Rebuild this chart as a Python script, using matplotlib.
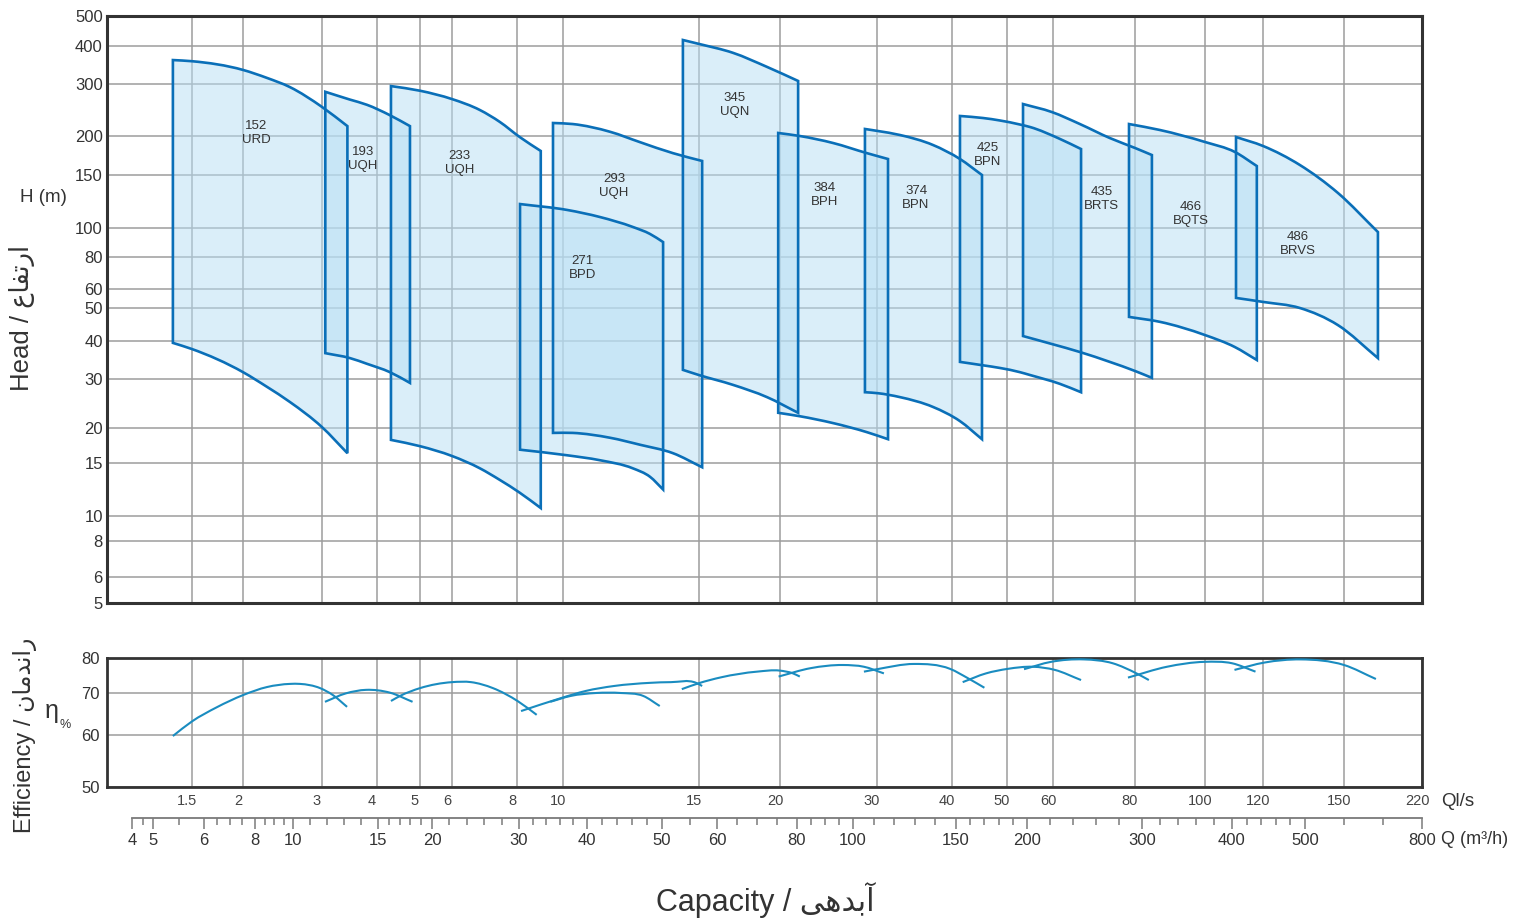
import numpy as np
import matplotlib
matplotlib.use('Agg')
import matplotlib.pyplot as plt
import matplotlib.transforms as mtransforms
from matplotlib.path import Path
from matplotlib.patches import PathPatch

plt.rcParams['font.family'] = ['Liberation Sans', 'DejaVu Sans']

# ---- axis values -------------------------------------------------------
Q_TICKS = [4, 5, 6, 8, 10, 15, 20, 30, 40, 50, 60, 80, 100, 150, 200, 300, 400, 500, 800]
Q_MINOR = [4.5, 5.5, 6.5, 7, 7.5, 8.5, 9, 9.5, 11, 12, 13, 14, 16, 17, 18, 19,
           22, 24, 26, 28, 32, 34, 36, 38, 42, 44, 46, 48, 55, 65, 70, 75,
           85, 90, 95, 110, 120, 130, 140, 160, 170, 180, 190, 220, 240, 260, 280,
           320, 340, 360, 380, 420, 440, 460, 480, 600, 700]
LS_TICKS = ['1.5', '2', '3', '4', '5', '6', '8', '10', '15', '20', '30', '40',
            '50', '60', '80', '100', '120', '150', '220']
H_TICKS = [5, 6, 8, 10, 15, 20, 30, 40, 50, 60, 80, 100, 150, 200, 300, 400, 500]
EFF_TICKS = [50, 60, 70, 80]

# ruler positions on the sheet (px), the scales are not true logs
Q_LEFT, Q_LEFT_X = 2.8, 107
Q_TICK_X = [132, 153, 204, 255, 293, 378, 432, 519, 587, 662, 717, 797, 853,
            956, 1027, 1142, 1232, 1305, 1422]
LS_TICK_X = [192, 243, 322, 377, 420, 452, 517, 563, 699, 780, 877, 952,
             1007, 1053, 1135, 1205, 1263, 1344, 1422]
H_TICK_Y = [603, 577, 541, 516, 463, 428, 379, 341, 308, 289, 257, 228, 175,
            136, 84, 46, 16]
EFF_TICK_Y = [787, 735, 693, 658]

# ---- pump fields: Q (m3/h), max / min head (m) --------------------------
q_152 = [5.39, 5.76, 7.53, 8.63, 9.84, 11.7, 13.2]
hmax_152 = [363, 360, 337, 316, 294, 256, 219]
hmin_152 = [39.5, 37.9, 31.8, 28.4, 25.3, 20.2, 16.4]

q_193 = [11.9, 13.35, 14.35, 16.1, 17.96]
hmax_193 = [285, 270, 260, 240, 219]
hmin_193 = [36.8, 35.5, 34.0, 31.8, 29.2]

q_233 = [16.2, 18.9, 22.3, 25.5, 27.8, 30.1, 33.2]
hmax_233 = [296, 287, 271, 250, 227, 198.7, 180.8]
hmin_233 = [18.3, 17.4, 16.0, 14.5, 13.4, 12.2, 10.75]

q_271 = [30.15, 37.1, 41.7, 46.1, 48.4, 50.2]
hmax_271 = [122.6, 117, 110.4, 101, 95.9, 90.3]
hmin_271 = [16.9, 16.1, 15.4, 14.5, 13.7, 12.5]

q_293 = [35, 37.9, 43.1, 47.1, 52, 57.3]
hmax_293 = [225, 223, 208, 192, 178, 168]
hmin_293 = [19.3, 19.3, 18.6, 17.6, 16.4, 14.6]

q_345 = [53.8, 56.7, 64, 72.5, 80.4]
hmax_345 = [420, 407, 382, 345, 308]
hmin_345 = [32.4, 31.05, 28.8, 26.3, 23.1]

q_384 = [75.3, 81, 92.9, 106.8, 117]
hmax_384 = [205.8, 200, 191, 178, 170.5]
hmin_384 = [23.1, 22.4, 21.0, 19.4, 18.4]

q_374 = [105.8, 112.1, 122.8, 138.8, 152.8, 168.3]
hmax_374 = [213.5, 209.6, 201.9, 188.5, 170.5, 150]
hmin_374 = [27.3, 27.1, 26.3, 24.3, 21.4, 18.4]

q_425 = [152.8, 169, 181, 195, 202.6, 228.7, 247]
hmax_425 = [238.5, 234.6, 229.8, 222.1, 217.3, 196.2, 183.3]
hmin_425 = [34.5, 33.6, 32.9, 31.8, 31.05, 29, 27.3]

q_435 = [197.2, 221.7, 246, 272, 294, 311]
hmax_435 = [261.5, 246, 223, 197.4, 184.6, 175.6]
hmin_435 = [41.5, 39.2, 37.1, 34.5, 32.1, 30.3]

q_466 = [288.7, 320, 370, 404, 434]
hmax_466 = [223, 211.5, 192.3, 179.5, 161.5]
hmin_466 = [47.3, 45.8, 41.8, 38.4, 35]

q_486 = [405.5, 442.5, 493, 584.6, 687]
hmax_486 = [198.7, 187.2, 162.8, 133, 97.2]
hmin_486 = [55.3, 53.2, 50, 44.8, 35.5]

# ---- efficiency curves: Q (m3/h), eta (%) -------------------------------
eq_152 = [5.39, 5.76, 6.5, 7.53, 8.63, 9.84, 10.41, 11.59, 12.35, 13.18]
eta_152 = [59.8, 63.2, 66.6, 69.5, 71.7, 72.6, 72.6, 71.4, 69.5, 66.7]
eq_193 = [11.88, 13.1, 14.3, 16.1, 18.2]
eta_193 = [67.9, 69.9, 70.9, 70.1, 67.9]
eq_233 = [16.2, 17.04, 18.9, 22.3, 24.5, 27.0, 29.9, 32.6]
eta_233 = [68.1, 69.3, 71.4, 73.1, 73.1, 71.4, 68.0, 64.8]
eq_271 = [34.6, 37.6, 41.2, 44.5, 47.5, 49.7]
eta_271 = [67.9, 69.3, 70.0, 70.0, 69.3, 66.9]
eq_293 = [30.3, 36.2, 39.85, 43.6, 48.4, 51.6, 56.2, 57.3]
eta_293 = [65.7, 68.8, 70.6, 72.0, 72.9, 73.1, 72.9, 72.0]
eq_345 = [53.6, 56.7, 61.1, 70, 75.7, 79.0, 81]
eta_345 = [71.1, 72.8, 74.5, 76.1, 76.4, 75.6, 74.7]
eq_384 = [75.4, 84.9, 96.4, 105.3, 115]
eta_384 = [74.7, 77.1, 78.0, 77.5, 75.6]
eq_374 = [105.3, 111.7, 129.6, 147.1, 158.5, 170]
eta_374 = [76.1, 76.8, 78.3, 76.9, 74.2, 71.5]
eq_425 = [154.7, 171.1, 186.5, 205.2, 224.2, 247.0]
eta_425 = [73.1, 75.6, 76.9, 77.5, 76.6, 73.7]
eq_435 = [197.9, 220.9, 249.4, 274.5, 295.2, 307.6]
eta_435 = [76.8, 78.9, 79.6, 78.5, 75.6, 73.7]
eq_466 = [287.8, 327.8, 369.4, 400, 432.2]
eta_466 = [74.4, 77.5, 78.9, 78.5, 76.1]
eq_486 = [403.4, 444.5, 494.1, 600, 681.8]
eta_486 = [76.6, 78.7, 79.6, 78.0, 74.0]

# model tags and where they sit (Q, H)
tags = ['152\nURD', '193\nUQH', '233\nUQH', '271\nBPD', '293\nUQH', '345\nUQN',
        '384\nBPH', '374\nBPN', '425\nBPN', '435\nBRTS', '466\nBQTS', '486\nBRVS']
tag_q = [8.05, 14.1, 23.2, 39.4, 43.6, 64.5, 90, 130.6, 172.5, 265, 354, 490]
tag_h = [205.8, 170.5, 165.4, 73.1, 139.6, 259.6, 131, 128.3, 175.6, 127.4, 113, 89]

fields = [(q_152, hmax_152, hmin_152), (q_193, hmax_193, hmin_193),
          (q_233, hmax_233, hmin_233), (q_271, hmax_271, hmin_271),
          (q_293, hmax_293, hmin_293), (q_345, hmax_345, hmin_345),
          (q_384, hmax_384, hmin_384), (q_374, hmax_374, hmin_374),
          (q_425, hmax_425, hmin_425), (q_435, hmax_435, hmin_435),
          (q_466, hmax_466, hmin_466), (q_486, hmax_486, hmin_486)]
eff_curves = [(eq_152, eta_152), (eq_193, eta_193), (eq_233, eta_233),
              (eq_271, eta_271), (eq_293, eta_293), (eq_345, eta_345),
              (eq_384, eta_384), (eq_374, eta_374), (eq_425, eta_425),
              (eq_435, eta_435), (eq_466, eta_466), (eq_486, eta_486)]

# persian words, already in joined glyph forms and visual order
HEAD_FA = '\ufec9\ufe8e\ufed4\ufe97\ufead\ufe8d'
EFF_FA = '\ufee5\ufe8e\ufee3\ufeaa\ufee7\ufe8d\ufead'
CAP_FA = '\ufef0\ufeeb\ufeaa\ufe91\ufe81'

# ---- scales ------------------------------------------------------------
qv = np.array([Q_LEFT] + Q_TICKS, float)
qp = np.array([Q_LEFT_X] + Q_TICK_X, float)
hv = np.array(H_TICKS, float)
hp = -np.array(H_TICK_Y, float)
ev = np.array(EFF_TICKS, float)
ep = -np.array(EFF_TICK_Y, float)

def ruler(vals, pos):
    return (lambda v: np.interp(v, vals, pos), lambda p: np.interp(p, pos, vals))

q_fns = ruler(qv, qp)
h_fns = ruler(hv, hp)
e_fns = ruler(ev, ep)
ls_q = np.interp(LS_TICK_X, qp, qv)


def bezier_run(px, py):
    # hermite segments through the points (slope taken along x), as cubic beziers
    m = np.gradient(py, px)
    verts = []
    for i in range(len(px) - 1):
        d = (px[i + 1] - px[i]) / 3
        verts += [(px[i] + d, py[i] + m[i] * d),
                  (px[i + 1] - d, py[i + 1] - m[i + 1] * d),
                  (px[i + 1], py[i + 1])]
    return verts


def to_data(verts, xf, yf):
    v = np.array(verts, float)
    return np.column_stack([xf[1](v[:, 0]), yf[1](v[:, 1])])


def field_path(q, hmax, hmin):
    tx, ty = q_fns[0](np.array(q, float)), h_fns[0](np.array(hmax, float))
    by = h_fns[0](np.array(hmin, float))
    n = len(q) - 1
    bottom = bezier_run(tx, by)
    # bottom curve is walked right to left
    back = []
    pts = [(tx[0], by[0])] + bottom
    for i in range(n, 0, -1):
        back += [pts[3 * i - 1], pts[3 * i - 2], pts[3 * i - 3]]
    verts = [(tx[0], ty[0])] + bezier_run(tx, ty) + [(tx[-1], by[-1])] \
        + back + [(tx[0], ty[0])]
    codes = [Path.MOVETO] + [Path.CURVE4] * 3 * n + [Path.LINETO] \
        + [Path.CURVE4] * 3 * n + [Path.CLOSEPOLY]
    return Path(to_data(verts, q_fns, h_fns), codes)


def curve_path(q, eta):
    px, py = q_fns[0](np.array(q, float)), e_fns[0](np.array(eta, float))
    verts = [(px[0], py[0])] + bezier_run(px, py)
    codes = [Path.MOVETO] + [Path.CURVE4] * 3 * (len(q) - 1)
    return Path(to_data(verts, q_fns, e_fns), codes)


W, H = 1517, 918
fig = plt.figure(figsize=(W / 100, H / 100), dpi=100)
fig.patch.set_facecolor('white')

def box(x0, y0, x1, y1):
    return [x0 / W, 1 - y1 / H, (x1 - x0) / W, (y1 - y0) / H]

ax_h = fig.add_axes(box(107, 16, 1422, 603))
ax_e = fig.add_axes(box(107, 658, 1422, 787))
ax_q = fig.add_axes(box(107, 817, 1422, 818))

for ax in (ax_h, ax_e, ax_q):
    ax.set_xscale('function', functions=q_fns)
    ax.set_xlim(Q_LEFT, 800)

grid_kw = dict(color='#9c9c9c', lw=1.1)
fill_c = (183 / 255, 223 / 255, 245 / 255, 0.5)
edge_c = '#0a6fb8'
text_c = '#333333'

# head panel
ax_h.set_yscale('function', functions=h_fns)
ax_h.set_ylim(5, 500)
ax_h.set_xticks(ls_q)
ax_h.set_yticks(H_TICKS, labels=[str(t) for t in H_TICKS])
ax_h.tick_params(length=0, labelbottom=False, labelsize=12, labelcolor=text_c, pad=3)
ax_h.grid(True, **grid_kw)
ax_h.set_axisbelow(True)
for sp in ax_h.spines.values():
    sp.set_color('#333333')
    sp.set_linewidth(2.2)
    sp.set_zorder(5)

paths = [field_path(*f) for f in fields]
for p in paths:
    ax_h.add_patch(PathPatch(p, facecolor=fill_c, edgecolor='none', zorder=2))
for p in paths:
    ax_h.add_patch(PathPatch(p, facecolor='none', edgecolor=edge_c, lw=1.9,
                             joinstyle='miter', zorder=3))

for t, x, y in zip(tags, tag_q, tag_h):
    ax_h.text(x, y, t, ha='center', va='center', fontsize=9.5, color=text_c,
              linespacing=1.2, zorder=4)

# efficiency panel
ax_e.set_yscale('function', functions=e_fns)
ax_e.set_ylim(50, 80)
ax_e.set_yticks(EFF_TICKS, labels=[str(t) for t in EFF_TICKS])
ax_e.set_xticks(ls_q, labels=LS_TICKS)
ax_e.tick_params(length=0, labelsize=12, labelcolor=text_c, pad=5)
ax_e.tick_params(axis='x', labelsize=10.5, labelcolor='#444444', pad=5)
ax_e.grid(True, **grid_kw)
ax_e.set_axisbelow(True)
for sp in ax_e.spines.values():
    sp.set_color('#333333')
    sp.set_linewidth(2.0)
shift = mtransforms.ScaledTranslation(-5 / 100, 0, fig.dpi_scale_trans)
for lab in ax_e.get_xticklabels():
    lab.set_transform(lab.get_transform() + shift)

for q, eta in eff_curves:
    ax_e.add_patch(PathPatch(curve_path(q, eta), facecolor='none',
                             edgecolor='#1a8cc0', lw=1.5, zorder=3))

# m3/h ruler
ax_q.patch.set_visible(False)
ax_q.set_yticks([])
for name in ('left', 'right', 'top'):
    ax_q.spines[name].set_visible(False)
ax_q.spines['bottom'].set_bounds(4, 800)
ax_q.spines['bottom'].set_color('#7a7a7a')
ax_q.spines['bottom'].set_linewidth(1.3)
ax_q.set_xticks(Q_TICKS, labels=[str(t) for t in Q_TICKS])
ax_q.set_xticks(Q_MINOR, minor=True)
ax_q.tick_params(axis='x', which='major', direction='out', length=8, width=1.1,
                 color='#7a7a7a', labelsize=12, labelcolor=text_c, pad=3)
ax_q.tick_params(axis='x', which='minor', direction='out', length=5, width=1.1,
                 color='#7a7a7a')

# titles and units
fig.text(1441 / W, 1 - 802 / H, 'Ql/s', ha='left', va='center', fontsize=13.5, color=text_c)
fig.text(1441 / W, 1 - 840 / H, 'Q (m\u00b3/h)', ha='left', va='center', fontsize=13, color=text_c)
fig.text(43 / W, 1 - 198 / H, 'H (m)', ha='center', va='center', fontsize=13.5, color=text_c)
fig.text(22 / W, 1 - 318 / H, 'Head / ' + HEAD_FA, rotation=90, ha='center', va='center',
         fontsize=18.5, color=text_c)
fig.text(25 / W, 1 - 735 / H, 'Efficiency / ' + EFF_FA, rotation=90, ha='center', va='center',
         fontsize=17, color=text_c)
fig.text(52 / W, 1 - 711 / H, '\u03b7', ha='center', va='center', fontsize=18, color=text_c)
fig.text(65 / W, 1 - 725 / H, '%', ha='center', va='center', fontsize=9, color=text_c)
fig.text(765 / W, 1 - 900 / H, 'Capacity / ' + CAP_FA, ha='center', va='center',
         fontsize=22, color=text_c)

fig.savefig('out.png', dpi=100, facecolor='white')
